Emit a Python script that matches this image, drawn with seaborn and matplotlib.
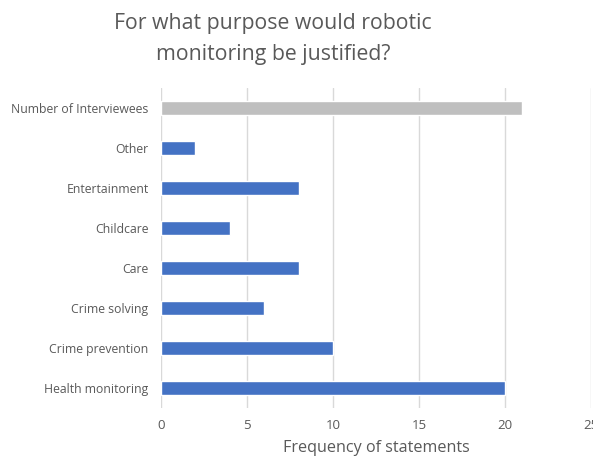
import matplotlib
matplotlib.use("Agg")
import matplotlib.pyplot as plt
import seaborn as sns
import pandas as pd

categories = ["Number of Interviewees", "Other", "Entertainment", "Childcare",
              "Care", "Crime solving", "Crime prevention", "Health monitoring"]
values = [21, 2, 8, 4, 8, 6, 10, 20]
bar_colors = ["#BFBFBF", "#4472C4", "#4472C4", "#4472C4",
              "#4472C4", "#4472C4", "#4472C4", "#4472C4"]
x_ticks = [0, 5, 10, 15, 20, 25]

sns.set_style("white")
plt.rcParams['font.family'] = ['Open Sans', 'DejaVu Sans']

df = pd.DataFrame({"category": categories, "value": values})

fig = plt.figure(figsize=(5.93, 4.61), dpi=100)
ax = fig.add_axes([161/593, 1 - 408/461, (591 - 161)/593, 320/461])

sns.barplot(data=df, y="category", x="value", hue="category",
            palette=dict(zip(categories, bar_colors)), legend=False,
            orient="h", width=0.35, ax=ax, zorder=3, saturation=1)

text_color = "#595959"
ax.set_xlim(0, 25)
ax.set_xticks(x_ticks)
ax.set_xticklabels([str(t) for t in x_ticks])
ax.xaxis.grid(True, color="#D9D9D9", linewidth=1, zorder=0)
ax.set_axisbelow(True)
for s in ax.spines.values():
    s.set_visible(False)
ax.tick_params(axis="both", length=0, colors=text_color)
ax.tick_params(axis="x", pad=8, labelsize=9.5)
ax.tick_params(axis="y", pad=9, labelsize=8.8)
ax.set_ylabel("")
ax.set_xlabel("Frequency of statements", fontsize=11.6, color=text_color, labelpad=6)

fig.text(273/593, 1 - 39/461, "For what purpose would robotic\nmonitoring be justified?",
         ha="center", va="center", fontsize=15.3, color=text_color, linespacing=1.6)

fig.savefig("out.png", dpi=100)
